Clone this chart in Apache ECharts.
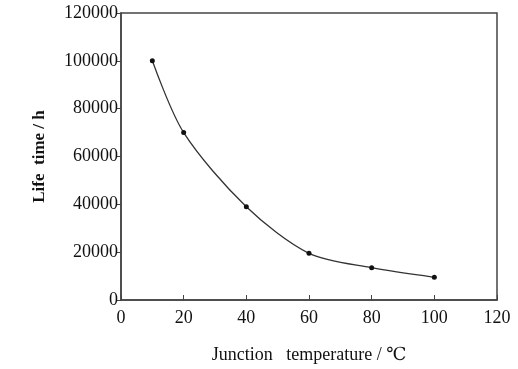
<!DOCTYPE html>
<html>
<head>
<meta charset="utf-8">
<script src="https://cdn.jsdelivr.net/npm/echarts@6/dist/echarts.min.js"></script>
<style>
  html, body { margin: 0; padding: 0; background: #fff; }
  #chart { width: 518px; height: 369px; }
</style>
</head>
<body>
<div id="chart"></div>
<script>
// junction temperature (°C) vs. life time (h)
var temps = [10, 20, 40, 60, 80, 100];
var lifeHours = [100000, 70000, 39000, 19500, 13500, 9500];

var xTicks = [0, 20, 40, 60, 80, 100, 120];
var yTicks = [0, 20000, 40000, 60000, 80000, 100000, 120000];

var font = '"Liberation Serif", "DejaVu Serif", serif';
var ink = '#111';

var chart = echarts.init(document.getElementById('chart'));

chart.setOption({
    animation: false,
    grid: { left: 121, right: 21, top: 13, bottom: 69, show: true, borderColor: '#444', borderWidth: 1.5 },
    xAxis: {
        type: 'value',
        min: xTicks[0],
        max: xTicks[xTicks.length - 1],
        interval: 20,
        name: 'Junction   temperature / ℃',
        nameLocation: 'middle',
        nameGap: 46,
        nameTextStyle: { fontFamily: font, fontSize: 18, color: ink },
        axisLine: { lineStyle: { color: '#444', width: 1.5 } },
        axisTick: { inside: true, length: 5, lineStyle: { color: '#444' } },
        axisLabel: { fontFamily: font, fontSize: 18, color: ink, margin: 9 },
        splitLine: { show: false }
    },
    yAxis: {
        type: 'value',
        min: yTicks[0],
        max: yTicks[yTicks.length - 1],
        interval: 20000,
        name: 'Life  time / h',
        nameLocation: 'middle',
        nameGap: 73,
        nameTextStyle: { fontFamily: font, fontSize: 17, fontWeight: 'bold', color: ink },
        axisLine: { lineStyle: { color: '#444', width: 1.5 } },
        axisTick: { length: 4, lineStyle: { color: '#444' } },
        axisLabel: {
            fontFamily: font, fontSize: 18, color: ink, margin: 3,
            formatter: function (v) { return String(v); }
        },
        splitLine: { show: false }
    },
    series: [{
        type: 'line',
        data: temps.map(function (t, i) { return [t, lifeHours[i]]; }),
        smooth: 0.3,
        symbol: 'circle',
        symbolSize: 5,
        itemStyle: { color: '#111' },
        lineStyle: { color: '#333', width: 1.3 }
    }]
});
</script>
</body>
</html>
